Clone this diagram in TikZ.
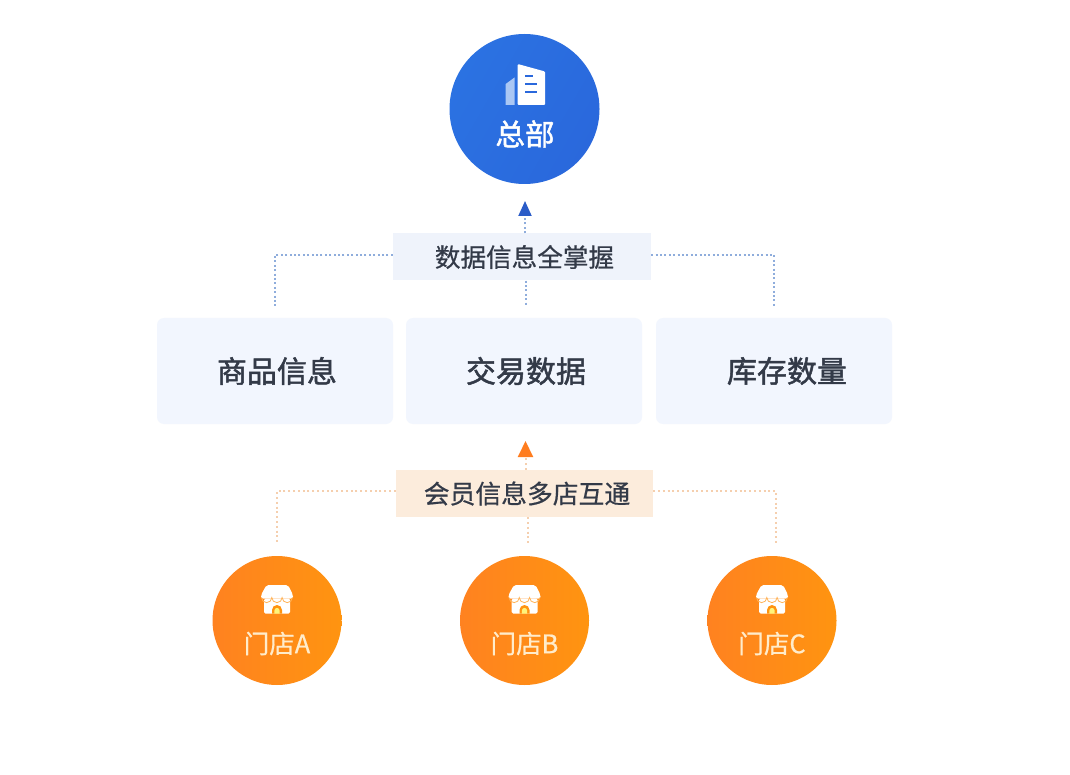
\documentclass[tikz,border=0pt]{standalone}
\usepackage{fontspec}
\setmainfont{Noto Sans CJK SC}
\newfontfamily\cjkm[FakeBold=1.6]{Noto Sans CJK SC}
\newfontfamily\cjkl[FakeBold=0.6]{Noto Sans CJK SC}
\usetikzlibrary{arrows.meta}
\definecolor{ink}{HTML}{333A48}
\definecolor{bluedot}{HTML}{8FADDC}
\definecolor{orangedot}{HTML}{F5CFAE}
\definecolor{bluetip}{HTML}{2A5CC8}
\definecolor{orangetip}{HTML}{FF7D1F}
\definecolor{cream}{HTML}{FFECCB}
\definecolor{HQa}{HTML}{2B72E2}
\definecolor{HQb}{HTML}{2A68DC}
\definecolor{STa}{HTML}{FF8220}
\definecolor{STb}{HTML}{FF9410}
\definecolor{boxfill}{HTML}{F2F6FE}
\definecolor{bluelab}{HTML}{EFF3FB}
\definecolor{orangelab}{HTML}{FCECDC}
\tikzset{
  hq/.style={circle,minimum size=150pt,inner sep=0pt,left color=HQa,right color=HQb,shading angle=60},
  store/.style={circle,minimum size=129pt,inner sep=0pt,left color=STa,right color=STb},
  infobox/.style={rounded corners=7pt,fill=boxfill,minimum width=236pt,minimum height=106pt,inner sep=0pt,text=ink,font=\cjkm\fontsize{30pt}{32pt}\selectfont},
  bluelabel/.style={fill=bluelab,minimum width=258pt,minimum height=47pt,inner sep=0pt,text=ink,font=\cjkl\fontsize{25.6pt}{28pt}\selectfont},
  orangelabel/.style={fill=orangelab,minimum width=257pt,minimum height=47pt,inner sep=0pt,text=ink,font=\cjkl\fontsize{25.8pt}{28pt}\selectfont},
  bluelink/.style={draw=bluedot,line width=2pt,dash pattern=on 2pt off 2.4pt},
  orangelink/.style={draw=orangedot,line width=2pt,dash pattern=on 2pt off 2.8pt},
  bluearrow/.style={bluelink,-{Triangle[length=15pt,width=13pt,color=bluetip,fill=bluetip]}},
  orangearrow/.style={orangelink,-{Triangle[length=16pt,width=15pt,color=orangetip,fill=orangetip]}},
  caption/.style={inner sep=0pt,font=\cjkl\fontsize{25.5pt}{27pt}\selectfont,text=cream},
}
\newcommand{\shopicon}[1]{%
  \begin{scope}[shift={(#1)}]
    \fill[white,rounded corners=1.5pt] (-13,-22) -- (-13,-7) -- (13,-7) -- (13,-22) -- cycle;
    \fill[white,rounded corners=2pt] (-10.5,-35.5) -- (11,-35.5) -- (16,-25.5) -- (16,-22) -- (-16,-22) -- (-16,-25.5) -- cycle;
    \draw[STb!70!white,line width=0.8pt] (-15.5,-23) arc[start angle=180,end angle=0,radius=5.15]
      arc[start angle=180,end angle=0,radius=5.15] arc[start angle=180,end angle=0,radius=5.15];
    \fill[STb] (-5,-7) -- (-5,-10.5) arc[start angle=180,end angle=360,radius=5] -- (5,-7) -- cycle;
    \fill[cream!60!yellow] (-2.6,-7) -- (-2.6,-10) arc[start angle=180,end angle=360,radius=2.6] -- (2.6,-7) -- cycle;
  \end{scope}}
\begin{document}
\begin{tikzpicture}[x=1pt,y=-1pt]
\useasboundingbox[fill=white] (0,0) rectangle (1070,775);
% head office
\node[hq] (head) at (524.5,109) {};
\fill[white!60!HQa] (505.7,105) -- (505.7,84) -- (514.5,77.5) -- (514.5,105) -- cycle;
\fill[white,rounded corners=1pt] (517.7,105) -- (517.7,64) -- (545,71.5) -- (545,105) -- cycle;
\draw[HQb,line width=2pt] (525,76.5) -- (533,76.5) (525,84.3) -- (537,84.3) (525,92.3) -- (537,92.3);
\node[inner sep=0pt,text=white,font=\cjkm\fontsize{29.5pt}{31pt}\selectfont] (headtext) at (525,134) {总部};
% info boxes
\node[infobox] (goods) at (275,371) {\hspace{4pt}商品信息};
\node[infobox] (trade) at (524,371) {\hspace{4pt}交易数据};
\node[infobox] (stock) at (774,371) {\hspace{26pt}库存数量};
% labels
\node[bluelabel] (datalabel) at (522,257) {\hspace{5pt}\raisebox{-1.5pt}{数据信息全掌握}};
\node[orangelabel] (memberlabel) at (524.5,493.5) {\hspace{5pt}会员信息多店互通};
% free ends
\coordinate (blueleft) at (275,306);
\coordinate (blueright) at (774,306);
\coordinate (bluemid) at (525.5,306);
\coordinate (bluetop) at (525,201);
\coordinate (orangeleft) at (277,543);
\coordinate (orangeright) at (776,543);
\coordinate (orangemid) at (528,543);
\coordinate (orangetop) at (525.5,441);
% blue connectors
\draw[bluelink] ([yshift=2pt]datalabel.west) -| (blueleft);
\draw[bluelink] ([yshift=2pt]datalabel.east) -| (blueright);
\draw[bluelink] (datalabel.south -| bluemid) -- (bluemid);
\draw[bluearrow] (datalabel.north -| bluetop) -- (bluetop);
% orange connectors
\draw[orangelink] ([yshift=2.5pt]memberlabel.west) -| (orangeleft);
\draw[orangelink] ([yshift=2.5pt]memberlabel.east) -| (orangeright);
\draw[orangelink] (memberlabel.south -| orangemid) -- (orangemid);
\draw[orangearrow] (memberlabel.north -| orangetop) -- (orangetop);
% stores
\node[store] (storeA) at (277,620.5) {};
\node[store] (storeB) at (524.5,620.5) {};
\node[store] (storeC) at (772,620.5) {};
\shopicon{277,620.5}
\shopicon{524.5,620.5}
\shopicon{772,620.5}
\node[caption] (capA) at (277,643.5) {门店A};
\node[caption] (capB) at (524.5,643.5) {门店B};
\node[caption] (capC) at (772,643.5) {门店C};
\end{tikzpicture}
\end{document}
